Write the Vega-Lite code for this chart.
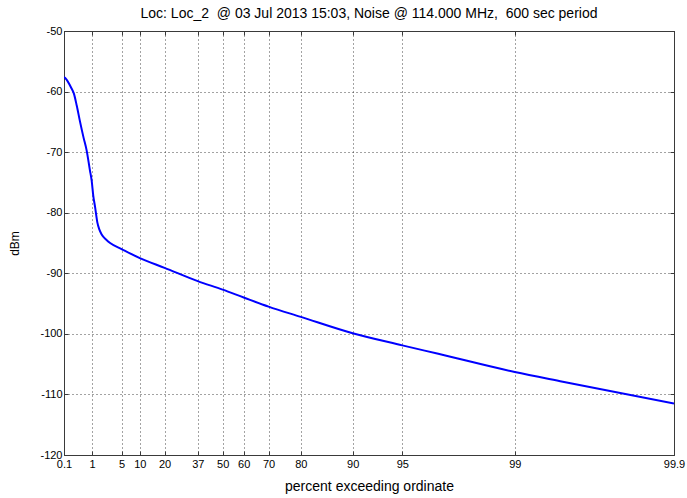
{
  "$schema": "https://vega.github.io/schema/vega-lite/v6.json",
  "width": 610,
  "height": 424,
  "autosize": {"type": "none"},
  "padding": {"left": 64, "top": 31, "right": 13, "bottom": 43},
  "background": "white",
  "config": {
    "font": "Liberation Sans",
    "view": {"stroke": "#3a3a3a", "strokeWidth": 1},
    "axis": {
      "domainColor": "#3a3a3a",
      "tickColor": "#3a3a3a",
      "labelColor": "#000000",
      "titleColor": "#000000",
      "labelFont": "Liberation Sans",
      "titleFont": "Liberation Sans",
      "labelFontSize": 11,
      "titleFontSize": 12,
      "titleFontWeight": "normal",
      "gridColor": "#333333",
      "gridDash": [1, 3],
      "gridOpacity": 0.9
    }
  },
  "title": {
    "text": "Loc: Loc_2 \u00a0@ 03 Jul 2013 15:03, Noise @ 114.000 MHz, \u00a0600 sec period",
    "font": "Liberation Sans",
    "fontSize": 14,
    "fontWeight": "normal",
    "color": "#000000",
    "anchor": "middle",
    "baseline": "alphabetic",
    "offset": -7
  },
  "data": {
    "values": [
      {"percent": 0.1, "dBm": -57.6},
      {"percent": 0.115, "dBm": -57.8},
      {"percent": 0.2, "dBm": -59.4},
      {"percent": 0.25, "dBm": -60.3},
      {"percent": 0.32, "dBm": -62.3},
      {"percent": 0.42, "dBm": -65.0},
      {"percent": 0.55, "dBm": -67.6},
      {"percent": 0.69, "dBm": -69.7},
      {"percent": 0.87, "dBm": -73.0},
      {"percent": 0.98, "dBm": -74.7},
      {"percent": 1.09, "dBm": -77.2},
      {"percent": 1.22, "dBm": -79.0},
      {"percent": 1.41, "dBm": -81.6},
      {"percent": 1.6, "dBm": -82.8},
      {"percent": 1.83, "dBm": -83.6},
      {"percent": 2.4, "dBm": -84.5},
      {"percent": 2.9, "dBm": -85.0},
      {"percent": 5, "dBm": -86.0},
      {"percent": 10, "dBm": -87.5},
      {"percent": 20, "dBm": -89.1},
      {"percent": 37, "dBm": -91.3},
      {"percent": 50, "dBm": -92.7},
      {"percent": 60, "dBm": -94.0},
      {"percent": 70, "dBm": -95.5},
      {"percent": 80, "dBm": -97.2},
      {"percent": 90, "dBm": -99.9},
      {"percent": 95, "dBm": -101.9},
      {"percent": 97, "dBm": -103.3},
      {"percent": 99, "dBm": -106.3},
      {"percent": 99.5, "dBm": -107.9},
      {"percent": 99.9, "dBm": -111.5}
    ]
  },
  "transform": [
    {"calculate": "-log(-log(datum.percent / 100))", "as": "gumbel"}
  ],
  "layer": [
    {
      "mark": {"type": "line", "color": "#0000ff", "strokeWidth": 2, "interpolate": "monotone", "clip": true},
      "encoding": {
        "x": {
          "field": "gumbel",
          "type": "quantitative",
          "scale": {"domain": [-1.932645, 6.907255], "nice": false, "zero": false},
          "axis": {
            "orient": "bottom",
            "title": "percent exceeding ordinate",
            "titleFontSize": 14,
            "values": [-1.932645, -1.52718, -1.097189, -0.834032, -0.475885, 0.005765, 0.366513, 0.671727, 1.03093, 1.49994, 2.250367, 2.970195, 4.600149, 6.907255],
            "labelExpr": "format(100 * exp(-exp(-datum.value)), '.3~r')",
            "labelFlush": false,
            "labelOverlap": false,
            "grid": true,
            "tickSize": -4,
            "labelPadding": 7,
            "titlePadding": 10
          }
        },
        "y": {
          "field": "dBm",
          "type": "quantitative",
          "scale": {"domain": [-120, -50], "nice": false, "zero": false},
          "axis": {
            "orient": "left",
            "title": "dBm",
            "values": [-120, -110, -100, -90, -80, -70, -60, -50],
            "labelExpr": "'' + datum.value",
            "grid": true,
            "tickSize": -4,
            "labelPadding": 6,
            "titlePadding": 18,
            "labelFlush": false
          }
        }
      }
    },
    {
      "mark": {"type": "line", "opacity": 0},
      "encoding": {
        "x": {
          "field": "gumbel",
          "type": "quantitative",
          "axis": {
            "orient": "top",
            "title": null,
            "values": [-1.932645, -1.52718, -1.097189, -0.834032, -0.475885, 0.005765, 0.366513, 0.671727, 1.03093, 1.49994, 2.250367, 2.970195, 4.600149, 6.907255],
            "labels": false,
            "grid": false,
            "tickSize": -4
          }
        },
        "y": {
          "field": "dBm",
          "type": "quantitative",
          "axis": {
            "orient": "right",
            "title": null,
            "values": [-120, -110, -100, -90, -80, -70, -60, -50],
            "labels": false,
            "grid": false,
            "tickSize": -4
          }
        }
      }
    }
  ],
  "resolve": {"axis": {"x": "independent", "y": "independent"}}
}
